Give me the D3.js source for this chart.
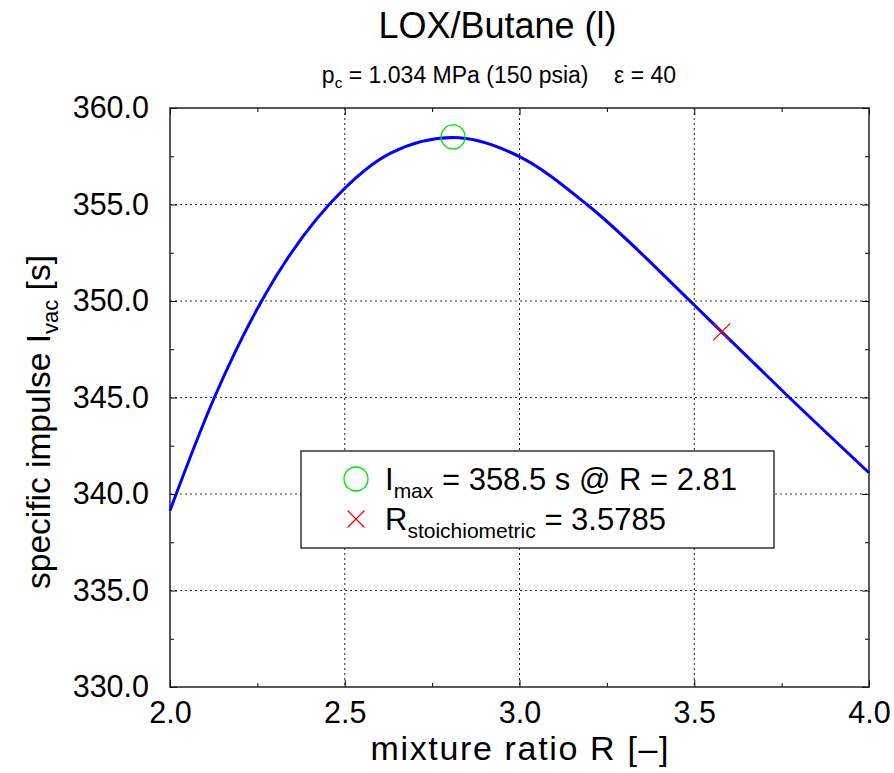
<!DOCTYPE html>
<html>
<head>
<meta charset="utf-8">
<script src="https://cdn.jsdelivr.net/npm/d3@7"></script>
<style>
  html, body { margin: 0; padding: 0; background: #fff; }
  svg { display: block; font-family: "Liberation Sans", Arial, Helvetica, sans-serif; }
</style>
</head>
<body>
<svg id="chart" width="894" height="773"></svg>
<script>
// ---- data ----
const mixtureRatio = [2.0, 2.127, 2.262, 2.5, 2.63, 2.81, 3.0, 3.193, 3.488, 3.5785, 3.772, 4.0];
const specificImpulse = [339.15, 345.0, 350.0, 355.84, 357.65, 358.47, 357.48, 355.0, 350.0, 348.4, 345.0, 341.1];
const xTicks = [2.0, 2.5, 3.0, 3.5, 4.0];
const yTicks = [330, 335, 340, 345, 350, 355, 360];
const xMinorTicks = [2.25, 2.75, 3.25, 3.75];
const yMinorTicks = [332.5, 337.5, 342.5, 347.5, 352.5, 357.5];
const maxPoint = { R: 2.81, I: 358.5 };
const stoichPoint = { R: 3.5785, I: 348.4 };
const titleText = "LOX/Butane (l)";
const legendLabels = [
  { main: "I", sub: "max", rest: " = 358.5 s @ R = 2.81" },
  { main: "R", sub: "stoichiometric", rest: " = 3.5785" }
];

const svg = d3.select("#chart");
const m = { left: 170, top: 108, right: 869, bottom: 687 };
const x = d3.scaleLinear().domain([2.0, 4.0]).range([m.left, m.right]);
const y = d3.scaleLinear().domain([330, 360]).range([m.bottom, m.top]);

// grid
const grid = svg.append("g");
grid.selectAll("line.vg").data(xTicks.slice(1, -1)).join("line")
  .attr("x1", d => x(d)).attr("x2", d => x(d)).attr("y1", m.top).attr("y2", m.bottom)
  .attr("stroke", "#222").attr("stroke-width", 1).attr("stroke-dasharray", "2,3");
grid.selectAll("line.hg").data(yTicks.slice(1, -1)).join("line")
  .attr("y1", d => y(d)).attr("y2", d => y(d)).attr("x1", m.left).attr("x2", m.right)
  .attr("stroke", "#333").attr("stroke-width", 1).attr("stroke-dasharray", "2,3");

// axes: ticks inward on all four sides
const fmt = d3.format(".1f");
const axB = svg.append("g").attr("transform", `translate(0,${m.bottom})`)
  .call(d3.axisBottom(x).tickValues(xTicks).tickSize(-7).tickPadding(14).tickFormat(fmt));
const axB2 = svg.append("g").attr("transform", `translate(0,${m.bottom})`)
  .call(d3.axisBottom(x).tickValues(xMinorTicks).tickSize(-4).tickFormat(""));
const axT = svg.append("g").attr("transform", `translate(0,${m.top})`)
  .call(d3.axisTop(x).tickValues(xTicks).tickSize(-7).tickFormat(""));
const axT2 = svg.append("g").attr("transform", `translate(0,${m.top})`)
  .call(d3.axisTop(x).tickValues(xMinorTicks).tickSize(-4).tickFormat(""));
const axL = svg.append("g").attr("transform", `translate(${m.left},0)`)
  .call(d3.axisLeft(y).tickValues(yTicks).tickSize(-7).tickPadding(21).tickFormat(fmt));
const axL2 = svg.append("g").attr("transform", `translate(${m.left},0)`)
  .call(d3.axisLeft(y).tickValues(yMinorTicks).tickSize(-4).tickFormat(""));
const axR = svg.append("g").attr("transform", `translate(${m.right},0)`)
  .call(d3.axisRight(y).tickValues(yTicks).tickSize(-7).tickFormat(""));
const axR2 = svg.append("g").attr("transform", `translate(${m.right},0)`)
  .call(d3.axisRight(y).tickValues(yMinorTicks).tickSize(-4).tickFormat(""));
[axB, axB2, axT, axT2, axL, axL2, axR, axR2].forEach(a => {
  a.select(".domain").remove();
  a.selectAll(".tick line").attr("stroke", "#000").attr("stroke-width", 1);
  a.selectAll("text").attr("font-size", 30.5).attr("font-family", "Liberation Sans, Arial, sans-serif").attr("fill", "#000");
});
axB.selectAll(".tick text").attr("dy", "0.71em");

// frame
svg.append("rect").attr("x", m.left).attr("y", m.top)
  .attr("width", m.right - m.left).attr("height", m.bottom - m.top)
  .attr("fill", "none").attr("stroke", "#222").attr("stroke-width", 1.5);

// curve
const data = mixtureRatio.map((r, i) => ({ r, v: specificImpulse[i] }));
svg.append("path").datum(data)
  .attr("fill", "none").attr("stroke", "#0000ff").attr("stroke-width", 3)
  .attr("d", d3.line().x(d => x(d.r)).y(d => y(d.v)).curve(d3.curveMonotoneX));

// markers
svg.append("circle").attr("cx", x(maxPoint.R)).attr("cy", y(maxPoint.I)).attr("r", 12)
  .attr("fill", "none").attr("stroke", "#00e000").attr("stroke-width", 1.3);
const crossPath = s => `M${-s},${-s}L${s},${s}M${-s},${s}L${s},${-s}`;
svg.append("path").attr("transform", `translate(${x(stoichPoint.R)},${y(stoichPoint.I)})`)
  .attr("d", crossPath(8.5)).attr("stroke", "#ff0000").attr("stroke-width", 1.3).attr("fill", "none");

// title & subtitle
svg.append("text").attr("x", 497.5).attr("y", 38).attr("text-anchor", "middle")
  .attr("font-size", 36).text(titleText);
const sub = svg.append("text").attr("x", 499).attr("y", 83).attr("text-anchor", "middle")
  .attr("font-size", 23).attr("xml:space", "preserve");
sub.append("tspan").text("p");
sub.append("tspan").attr("font-size", 15.5).attr("dy", 5).text("c");
sub.append("tspan").attr("dy", -5).text(" = 1.034 MPa (150 psia)    \u03b5 = 40");

// axis labels
svg.append("text").attr("x", 519.5).attr("y", 760).attr("text-anchor", "middle")
  .attr("font-size", 34).attr("textLength", 298).attr("lengthAdjust", "spacing")
  .text("mixture ratio R [\u2013]");
const yl = svg.append("text").attr("transform", "translate(50,422) rotate(-90)")
  .attr("text-anchor", "middle").attr("font-size", 33.5);
yl.append("tspan").text("specific impulse I");
yl.append("tspan").attr("font-size", 22).attr("dy", 8).text("vac");
yl.append("tspan").attr("dy", -8).text(" [s]");

// legend
const lg = svg.append("g");
lg.append("rect").attr("x", 301).attr("y", 451).attr("width", 473).attr("height", 97)
  .attr("fill", "#fff").attr("stroke", "#000").attr("stroke-width", 1.2);
lg.append("circle").attr("cx", 356).attr("cy", 479).attr("r", 12)
  .attr("fill", "none").attr("stroke", "#00e000").attr("stroke-width", 1.3);
lg.append("path").attr("transform", "translate(356,519)").attr("d", crossPath(8.5))
  .attr("stroke", "#ff0000").attr("stroke-width", 1.3).attr("fill", "none");
const baselines = [490, 530];
legendLabels.forEach((l, i) => {
  const t = lg.append("text").attr("x", 385).attr("y", baselines[i]).attr("font-size", 31);
  t.append("tspan").text(l.main);
  t.append("tspan").attr("font-size", 21).attr("dy", 8).text(l.sub);
  t.append("tspan").attr("dy", -8).text(l.rest);
});
</script>
</body>
</html>
